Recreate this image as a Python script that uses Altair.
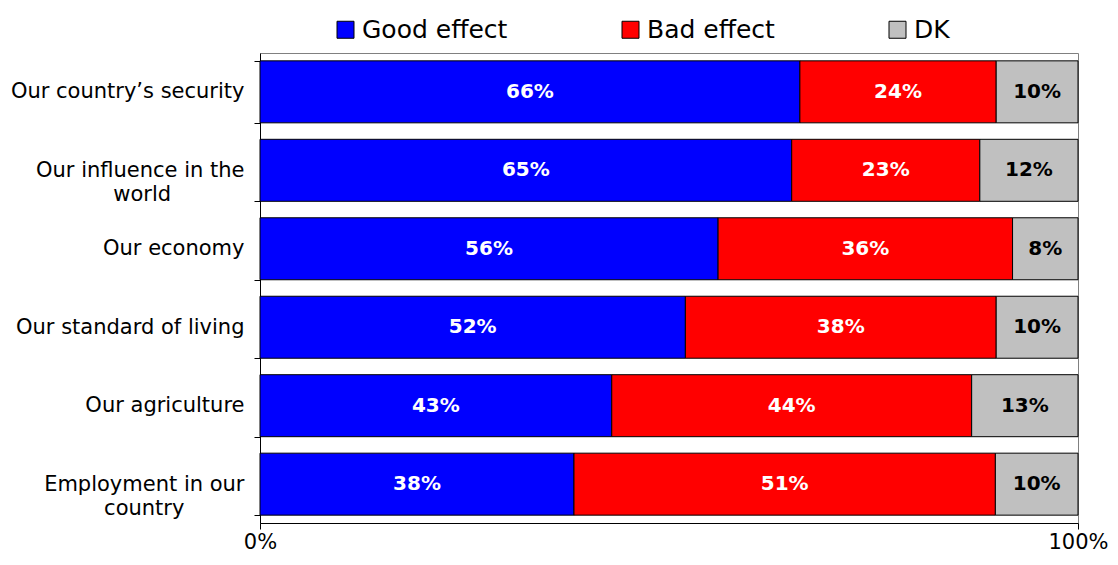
import altair as alt
import pandas as pd

categories = [
    "Our country\u2019s security",
    "Our influence in the world",
    "Our economy",
    "Our standard of living",
    "Our agriculture",
    "Employment in our country",
]
good = [66, 65, 56, 52, 43, 38]
bad = [24, 23, 36, 38, 44, 51]
dk = [10, 12, 8, 10, 13, 10]
series = ["Good effect", "Bad effect", "DK"]
colors = ["#0000FF", "#FF0000", "#C0C0C0"]
x_ticks = [0, 1]

rows = []
for i, cat in enumerate(categories):
    for j, (name, vals) in enumerate(zip(series, [good, bad, dk])):
        rows.append({"category": cat, "effect": name, "value": vals[i], "order": j})
df = pd.DataFrame(rows)

NB = "\u00a0"
END = "\u200b"
label_expr = (
    "datum.value == 'Our influence in the world' ? ['Our influence in the', 'world" + NB * 11 + END + "'] : "
    "datum.value == 'Employment in our country' ? ['Employment in our', 'country" + NB * 9 + END + "'] : datum.value"
)

FONT = "DejaVu Sans"

base = alt.Chart(df).transform_stack(
    stack="value",
    groupby=["category"],
    as_=["x0", "x1"],
    offset="normalize",
    sort=[alt.SortField("order", order="ascending")],
)

y_enc = alt.Y(
    "category:N",
    sort=categories,
    title=None,
    scale=alt.Scale(paddingInner=0.21, paddingOuter=0.1),
    axis=alt.Axis(
        labelExpr=label_expr,
        labelFont=FONT,
        labelFontSize=21,
        labelColor="black",
        labelLineHeight=24,
        labelLimit=400,
        labelPadding=10,
        tickBand="extent",
        tickSize=6,
        tickColor="black",
        domainColor="black",
        ticks=True,
        grid=False,
    ),
)

bars = base.mark_bar(stroke="black", strokeWidth=1, opacity=1).encode(
    y=y_enc,
    x=alt.X(
        "x0:Q",
        title=None,
        scale=alt.Scale(domain=[0, 1], nice=False),
        axis=alt.Axis(
            values=x_ticks,
            format=".0%",
            labelFont=FONT,
            labelFontSize=21,
            labelColor="black",
            labelPadding=2,
            tickSize=6,
            tickColor="black",
            domainColor="black",
            grid=False,
            labelFlush=False,
        ),
    ),
    x2="x1:Q",
    color=alt.Color(
        "effect:N",
        sort=series,
        scale=alt.Scale(domain=series, range=colors),
        legend=alt.Legend(
            title=None,
            orient="none",
            legendX=73,
            legendY=-36,
            direction="horizontal",
            labelFont=FONT,
            labelFontSize=25,
            labelColor="black",
            symbolType="square",
            symbolSize=289,
            symbolStrokeColor="black",
            symbolStrokeWidth=1,
            labelOffset=4,
            columnPadding=110,
        ),
    ),
)

text = base.transform_calculate(
    mid="(datum.x0 + datum.x1) / 2",
    label="datum.value + '%'",
).mark_text(font=FONT, fontSize=20, fontWeight="bold", baseline="middle").encode(
    y=alt.Y("category:N", sort=categories),
    x=alt.X("mid:Q"),
    text="label:N",
    color=alt.when(alt.datum.effect == "DK").then(alt.value("black")).otherwise(alt.value("white")),
)

chart = (
    alt.layer(bars, text)
    .properties(
        width=818,
        height=470,
        autosize=alt.AutoSizeParams(type="none"),
        padding={"left": 252, "top": 45, "right": 32, "bottom": 34},
    )
    .configure_view(stroke="#808080", strokeWidth=1)
)

chart.save("out.html", embed_options={"renderer": "svg", "actions": False})
